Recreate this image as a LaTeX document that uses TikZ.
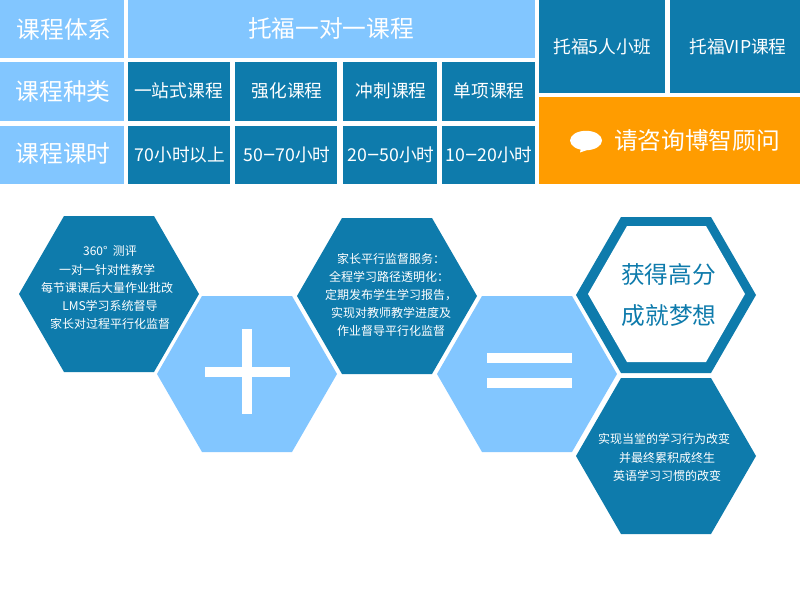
\documentclass[tikz,border=0pt]{standalone}
\usepackage{fontspec}
\setmainfont{Noto Sans CJK SC}
\definecolor{deep}{HTML}{0E7BAC}
\definecolor{sky}{HTML}{82C6FF}
\definecolor{amber}{HTML}{FF9C00}
\tikzset{
  captext/.style={text=white,inner sep=0pt,anchor=center,font=\fontsize{23.7}{28}\selectfont},
  midtext/.style={text=white,inner sep=0pt,anchor=center,font=\fontsize{17.7}{22}\selectfont},
  smalltext/.style={text=white,inner sep=0pt,anchor=center,font=\fontsize{12}{14}\selectfont},
  smallwest/.style={smalltext,anchor=west},
  goaltext/.style={captext,text=deep}
}
\newcommand{\hexshape}[3]{\fill[#1] (#2-90,#3+78) -- (#2-45,#3) -- (#2+45,#3) -- (#2+90,#3+78) -- (#2+45,#3+156) -- (#2-45,#3+156) -- cycle;}
\newcommand{\longdash}{{\fontsize{23}{22}\selectfont –}}
\begin{document}
\begin{tikzpicture}[x=1pt,y=-1pt]
\useasboundingbox (0,0) rectangle (800,600);
\fill[white] (0,0) rectangle (800,600);
% table
\fill[sky] (0,0) rectangle (124,58);
\fill[sky] (0,62) rectangle (124,121);
\fill[sky] (0,125.5) rectangle (124,184);
\fill[sky] (128,0) rectangle (535,58);
\foreach \a/\b in {128/230,235/337,343/437,442/535}{
  \fill[deep] (\a,62) rectangle (\b,121);
  \fill[deep] (\a,125.5) rectangle (\b,184);
}
\fill[deep] (539,0) rectangle (665,93);
\fill[deep] (670,0) rectangle (800,93);
\fill[amber] (539,97) rectangle (800,184);
\node[captext] (t1) at (64,30) {课程体系};
\node[captext] (t2) at (63,92) {课程种类};
\node[captext] (t3) at (63,154) {课程课时};
\node[captext] (t4) at (331,28) {托福一对一课程};
\node[midtext] (c1) at (178.5,91) {一站式课程};
\node[midtext] (c2) at (287,91) {强化课程};
\node[midtext] (c3) at (391,91) {冲刺课程};
\node[midtext] (c4) at (489,91) {单项课程};
\node[midtext] (h1) at (180,155) {70小时以上};
\node[midtext] (h2) at (287,155) {50\longdash 70小时};
\node[midtext] (h3) at (391,155) {20\longdash 50小时};
\node[midtext] (h4) at (489,155) {10\longdash 20小时};
\node[midtext] (r1) at (602.5,47) {托福5人小班};
\node[midtext] (r2) at (738,47) {托福VIP课程};
\fill[white] (586,140.5) ellipse [x radius=16,y radius=9.7];
\fill[white] (581,148) -- (590,149) -- (580,152.5) -- cycle;
\node[captext] (ask) at (697,141) {请咨询博智顾问};
% hexagons
\hexshape{deep}{109}{216}
\hexshape{sky}{247}{296}
\hexshape{deep}{387}{218}
\hexshape{sky}{527}{296}
\hexshape{deep}{666}{217}
\fill[white] (588,294) -- (627,226) -- (706,226) -- (745,294) -- (706,362) -- (627,362) -- cycle;
\hexshape{deep}{666}{378}
% plus and equals
\fill[white] (242,329) rectangle (252,414);
\fill[white] (205,367) rectangle (290,377);
\fill[white] (487,353) rectangle (572,363);
\fill[white] (487,378) rectangle (572,388);
% hexagon 1 text
\node[smalltext] (a1) at (110,251) {360°\ \ 测评};
\node[smalltext] (a2) at (107,270) {一对一针对性教学};
\node[smalltext] (a3) at (107,288) {每节课课后大量作业批改};
\node[smalltext] (a4) at (110,306) {LMS学习系统督导};
\node[smalltext] (a5) at (110,324) {家长对过程平行化监督};
% hexagon 3 text
\node[smallwest] (b1) at (337,259) {家长平行监督服务：};
\node[smallwest] (b2) at (329,277) {全程学习路径透明化：};
\node[smallwest] (b3) at (325,295) {定期发布学生学习报告，};
\node[smallwest] (b4) at (331,313) {实现对教师教学进度及};
\node[smallwest] (b5) at (337,331) {作业督导平行化监督};
% goal
\node[goaltext] (g1) at (668.5,274) {获得高分};
\node[goaltext] (g2) at (669,316) {成就梦想};
% last hexagon text
\node[smalltext] (d1) at (664,439) {实现当堂的学习行为改变};
\node[smalltext] (d2) at (667,458) {并最终累积成终生};
\node[smalltext] (d3) at (667,476) {英语学习习惯的改变};
\end{tikzpicture}
\end{document}
